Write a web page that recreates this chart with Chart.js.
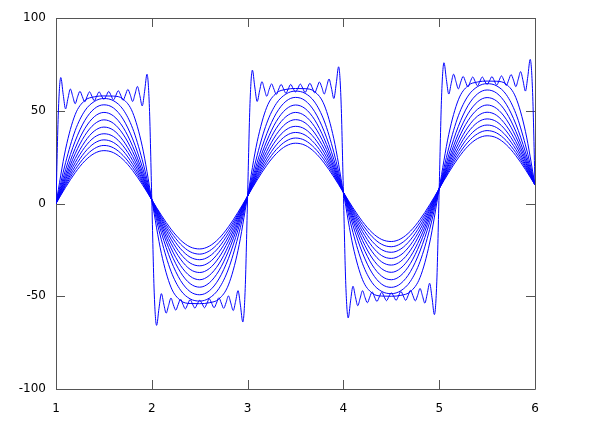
<!DOCTYPE html>
<html>
<head>
<meta charset="utf-8">
<script src="https://cdn.jsdelivr.net/npm/chart.js@4.4.1/dist/chart.umd.min.js"></script>
<style>
  html, body { margin: 0; padding: 0; background: #fff; }
  #chart { display: block; }
</style>
</head>
<body>
<canvas id="chart" width="597" height="438"></canvas>
<script>
// tick labels
const xTicks = [1, 2, 3, 4, 5, 6];
const yTicks = [-100, -50, 0, 50, 100];

// x positions of the smooth curves (step 0.1)
const smoothX = [
  1, 1.1, 1.2, 1.3, 1.4, 1.5, 1.6, 1.7, 1.8, 1.9,
  2, 2.1, 2.2, 2.3, 2.4, 2.5, 2.6, 2.7, 2.8, 2.9,
  3, 3.1, 3.2, 3.3, 3.4, 3.5, 3.6, 3.7, 3.8, 3.9,
  4, 4.1, 4.2, 4.3, 4.4, 4.5, 4.6, 4.7, 4.8, 4.9,
  5, 5.1, 5.2, 5.3, 5.4, 5.5, 5.6, 5.7, 5.8, 5.9,
  6
];

// smooth curves, innermost first
const curve0 = [0, 8.7, 16.6, 22.9, 27.0, 28.5, 27.4, 23.7, 17.8, 10.3,
  2.0, -6.3, -13.8, -19.7, -23.4, -24.5, -23.0, -18.9, -12.6, -4.7,
  4.0, 12.7, 20.6, 26.9, 31.0, 32.5, 31.4, 27.7, 21.8, 14.3,
  6.0, -2.3, -9.8, -15.7, -19.4, -20.5, -19.0, -14.9, -8.6, -0.7,
  8.0, 16.7, 24.6, 30.9, 35.0, 36.5, 35.4, 31.7, 25.8, 18.3, 10.0];
const curve1 = [0, 9.6, 18.2, 25.1, 29.6, 31.3, 30.0, 25.9, 19.4, 11.2,
  2.0, -7.2, -15.4, -21.9, -26.0, -27.3, -25.6, -21.1, -14.2, -5.6,
  4.0, 13.6, 22.2, 29.1, 33.6, 35.3, 34.0, 29.9, 23.4, 15.2,
  6.0, -3.2, -11.4, -17.9, -22.0, -23.3, -21.6, -17.1, -10.2, -1.6,
  8.0, 17.6, 26.2, 33.1, 37.6, 39.3, 38.0, 33.9, 27.4, 19.2, 10.0];
const curve2 = [0, 10.5, 20.0, 27.6, 32.5, 34.3, 32.9, 28.4, 21.2, 12.1,
  2.0, -8.1, -17.2, -24.4, -28.9, -30.3, -28.5, -23.6, -16.0, -6.5,
  4.0, 14.5, 24.0, 31.6, 36.5, 38.3, 36.9, 32.4, 25.2, 16.1,
  6.0, -4.1, -13.2, -20.4, -24.9, -26.3, -24.5, -19.6, -12.0, -2.5,
  8.0, 18.5, 28.0, 35.6, 40.5, 42.3, 40.9, 36.4, 29.2, 20.1, 10.0];
const curve3 = [0, 11.5, 22.0, 30.3, 35.7, 37.6, 36.1, 31.1, 23.2, 13.1,
  2.0, -9.1, -19.2, -27.1, -32.1, -33.6, -31.7, -26.3, -18.0, -7.5,
  4.0, 15.5, 26.0, 34.3, 39.7, 41.6, 40.1, 35.1, 27.2, 17.1,
  6.0, -5.1, -15.2, -23.1, -28.1, -29.6, -27.7, -22.3, -14.0, -3.5,
  8.0, 19.5, 30.0, 38.3, 43.7, 45.6, 44.1, 39.1, 31.2, 21.1, 10.0];
const curve4 = [0, 12.8, 24.2, 33.2, 39.1, 41.2, 39.5, 34.0, 25.4, 14.4,
  2.0, -10.4, -21.4, -30.0, -35.5, -37.2, -35.1, -29.2, -20.2, -8.8,
  4.0, 16.8, 28.2, 37.2, 43.1, 45.2, 43.5, 38.0, 29.4, 18.4,
  6.0, -6.4, -17.4, -26.0, -31.5, -33.2, -31.1, -25.2, -16.2, -4.8,
  8.0, 20.8, 32.2, 41.2, 47.1, 49.2, 47.5, 42.0, 33.4, 22.4, 10.0];
const curve5 = [0, 14.1, 26.8, 36.6, 42.8, 45.1, 43.2, 37.4, 28.0, 15.7,
  2.0, -11.7, -24.0, -33.4, -39.2, -41.1, -38.8, -32.6, -22.8, -10.1,
  4.0, 18.1, 30.8, 40.6, 46.8, 49.1, 47.2, 41.4, 32.0, 19.7,
  6.0, -7.7, -20.0, -29.4, -35.2, -37.1, -34.8, -28.6, -18.8, -6.1,
  8.0, 22.1, 34.8, 44.6, 50.8, 53.1, 51.2, 45.4, 36.0, 23.7, 10.0];
const curve6 = [0, 15.8, 29.7, 40.3, 46.8, 49.1, 47.2, 41.1, 30.9, 17.4,
  2.0, -13.4, -26.9, -37.1, -43.2, -45.1, -42.8, -36.3, -25.7, -11.8,
  4.0, 19.8, 33.7, 44.3, 50.8, 53.1, 51.2, 45.1, 34.9, 21.4,
  6.0, -9.4, -22.9, -33.1, -39.2, -41.1, -38.8, -32.3, -21.7, -7.8,
  8.0, 23.8, 37.7, 48.3, 54.8, 57.1, 55.2, 49.1, 38.9, 25.4, 10.0];
const curve7 = [0, 18.2, 33.6, 44.7, 51.1, 53.2, 51.5, 45.5, 34.8, 19.8,
  2.0, -15.8, -30.8, -41.5, -47.5, -49.2, -47.1, -40.7, -29.6, -14.2,
  4.0, 22.2, 37.6, 48.7, 55.1, 57.2, 55.5, 49.5, 38.8, 23.8,
  6.0, -11.8, -26.8, -37.5, -43.5, -45.2, -43.1, -36.7, -25.6, -10.2,
  8.0, 26.2, 41.6, 52.7, 59.1, 61.2, 59.5, 53.5, 42.8, 27.8, 10.0];
const curve8 = [0, 22.0, 39.3, 49.9, 55.0, 56.6, 55.4, 50.7, 40.5, 23.6,
  2.0, -19.6, -36.5, -46.7, -51.4, -52.6, -51.0, -45.9, -35.3, -18.0,
  4.0, 26.0, 43.3, 53.9, 59.0, 60.6, 59.4, 54.7, 44.5, 27.6,
  6.0, -15.6, -32.5, -42.7, -47.4, -48.6, -47.0, -41.9, -31.3, -14.0,
  8.0, 30.0, 47.3, 57.9, 63.0, 64.6, 63.4, 58.7, 48.5, 31.6, 10.0];
const curve9 = [0, 29.3, 47.9, 55.5, 57.5, 58.0, 57.9, 56.3, 49.1, 30.9,
  2.0, -26.9, -45.1, -52.3, -53.9, -54.0, -53.5, -51.5, -43.9, -25.3,
  4.0, 33.3, 51.9, 59.5, 61.5, 62.0, 61.9, 60.3, 53.1, 34.9,
  6.0, -22.9, -41.1, -48.3, -49.9, -50.0, -49.5, -47.5, -39.9, -21.3,
  8.0, 37.3, 55.9, 63.5, 65.5, 66.0, 65.9, 64.3, 57.1, 38.9, 10.0];

// x positions of the rippled curve (step 0.025)
const rippleX = [
  1, 1.025, 1.05, 1.075, 1.1, 1.125, 1.15, 1.175,
  1.2, 1.225, 1.25, 1.275, 1.3, 1.325, 1.35, 1.375,
  1.4, 1.425, 1.45, 1.475, 1.5, 1.525, 1.55, 1.575,
  1.6, 1.625, 1.65, 1.675, 1.7, 1.725, 1.75, 1.775,
  1.8, 1.825, 1.85, 1.875, 1.9, 1.925, 1.95, 1.975,
  2, 2.025, 2.05, 2.075, 2.1, 2.125, 2.15, 2.175,
  2.2, 2.225, 2.25, 2.275, 2.3, 2.325, 2.35, 2.375,
  2.4, 2.425, 2.45, 2.475, 2.5, 2.525, 2.55, 2.575,
  2.6, 2.625, 2.65, 2.675, 2.7, 2.725, 2.75, 2.775,
  2.8, 2.825, 2.85, 2.875, 2.9, 2.925, 2.95, 2.975,
  3, 3.025, 3.05, 3.075, 3.1, 3.125, 3.15, 3.175,
  3.2, 3.225, 3.25, 3.275, 3.3, 3.325, 3.35, 3.375,
  3.4, 3.425, 3.45, 3.475, 3.5, 3.525, 3.55, 3.575,
  3.6, 3.625, 3.65, 3.675, 3.7, 3.725, 3.75, 3.775,
  3.8, 3.825, 3.85, 3.875, 3.9, 3.925, 3.95, 3.975,
  4, 4.025, 4.05, 4.075, 4.1, 4.125, 4.15, 4.175,
  4.2, 4.225, 4.25, 4.275, 4.3, 4.325, 4.35, 4.375,
  4.4, 4.425, 4.45, 4.475, 4.5, 4.525, 4.55, 4.575,
  4.6, 4.625, 4.65, 4.675, 4.7, 4.725, 4.75, 4.775,
  4.8, 4.825, 4.85, 4.875, 4.9, 4.925, 4.95, 4.975,
  5, 5.025, 5.05, 5.075, 5.1, 5.125, 5.15, 5.175,
  5.2, 5.225, 5.25, 5.275, 5.3, 5.325, 5.35, 5.375,
  5.4, 5.425, 5.45, 5.475, 5.5, 5.525, 5.55, 5.575,
  5.6, 5.625, 5.65, 5.675, 5.7, 5.725, 5.75, 5.775,
  5.8, 5.825, 5.85, 5.875, 5.9, 5.925, 5.95, 5.975,
  6
];

// outer curve with the ripples
const ripple = [
  0, 49.9, 67.9, 58.8, 51.0, 56.7, 61.7, 57.7,
  53.8, 57.5, 60.5, 57.6, 54.8, 57.7, 60.2, 57.8,
  55.4, 57.9, 60.2, 58.0, 56.2, 58.1, 60.4, 58.2,
  55.8, 58.3, 60.8, 58.4, 55.6, 58.5, 61.5, 58.6,
  55.0, 59.0, 63.1, 58.2, 52.6, 60.5, 69.7, 51.8,
  2, -47.8, -65.7, -56.5, -48.6, -54.2, -59.1, -55.0,
  -51.0, -54.6, -57.5, -54.5, -51.6, -54.4, -56.8, -54.3,
  -51.8, -54.2, -56.4, -54.1, -52.2, -54.0, -56.2, -53.9,
  -51.4, -53.8, -56.2, -53.7, -50.8, -53.6, -56.5, -53.5,
  -49.8, -53.7, -57.7, -52.7, -47.0, -54.8, -63.9, -45.9,
  4, 53.9, 71.9, 62.8, 55.0, 60.7, 65.7, 61.7,
  57.8, 61.5, 64.5, 61.6, 58.8, 61.7, 64.2, 61.8,
  59.4, 61.9, 64.2, 62.0, 60.2, 62.1, 64.4, 62.2,
  59.8, 62.3, 64.8, 62.4, 59.6, 62.5, 65.5, 62.6,
  59.0, 63.0, 67.1, 62.2, 56.6, 64.5, 73.7, 55.8,
  6, -43.8, -61.7, -52.5, -44.6, -50.2, -55.1, -51.0,
  -47.0, -50.6, -53.5, -50.5, -47.6, -50.4, -52.8, -50.3,
  -47.8, -50.2, -52.4, -50.1, -48.2, -50.0, -52.2, -49.9,
  -47.4, -49.8, -52.2, -49.7, -46.8, -49.6, -52.5, -49.5,
  -45.8, -49.7, -53.7, -48.7, -43.0, -50.8, -59.9, -41.9,
  8, 57.9, 75.9, 66.8, 59.0, 64.7, 69.7, 65.7,
  61.8, 65.5, 68.5, 65.6, 62.8, 65.7, 68.2, 65.8,
  63.4, 65.9, 68.2, 66.0, 64.2, 66.1, 68.4, 66.2,
  63.8, 66.3, 68.8, 66.4, 63.6, 66.5, 69.5, 66.6,
  63.0, 67.0, 71.1, 66.2, 60.6, 68.5, 77.7, 59.8,
  10
];

const smoothCurves = [curve0, curve1, curve2, curve3, curve4, curve5, curve6, curve7, curve8, curve9];

function toPoints(xs, ys) {
  return ys.map((y, i) => ({ x: xs[i], y: y }));
}

function makeLine(points) {
  return {
    data: points,
    borderColor: '#0000ff',
    borderWidth: 1,
    pointRadius: 0,
    fill: false,
    cubicInterpolationMode: 'monotone'
  };
}

const datasets = smoothCurves.map(c => makeLine(toPoints(smoothX, c)));
datasets.push(makeLine(toPoints(rippleX, ripple)));

// gnuplot style border with inward ticks on all four sides
const framePlugin = {
  id: 'frame',
  beforeDatasetsDraw(chart) {
    const { ctx, chartArea: a, scales } = chart;
    const tick = 9;
    ctx.save();
    ctx.strokeStyle = '#555';
    ctx.lineWidth = 1;
    ctx.beginPath();
    ctx.rect(Math.round(a.left) + 0.5, Math.round(a.top) + 0.5,
      Math.round(a.right - a.left), Math.round(a.bottom - a.top));
    xTicks.forEach(v => {
      const px = Math.round(scales.x.getPixelForValue(v)) + 0.5;
      ctx.moveTo(px, a.bottom);
      ctx.lineTo(px, a.bottom - tick);
      ctx.moveTo(px, a.top);
      ctx.lineTo(px, a.top + tick);
    });
    yTicks.forEach(v => {
      const py = Math.round(scales.y.getPixelForValue(v)) + 0.5;
      ctx.moveTo(a.left, py);
      ctx.lineTo(a.left + tick, py);
      ctx.moveTo(a.right, py);
      ctx.lineTo(a.right - tick, py);
    });
    ctx.stroke();
    ctx.restore();
  }
};

const tickFont = { family: 'DejaVu Sans', size: 12 };

new Chart(document.getElementById('chart'), {
  type: 'line',
  data: { datasets: datasets },
  options: {
    responsive: false,
    animation: false,
    devicePixelRatio: 1,
    layout: { padding: { top: 18, right: 62, bottom: 0, left: 0 } },
    plugins: { legend: { display: false }, tooltip: { enabled: false } },
    scales: {
      x: {
        type: 'linear',
        min: xTicks[0],
        max: xTicks[xTicks.length - 1],
        grid: { display: false, drawTicks: false },
        border: { display: false },
        ticks: { stepSize: 1, padding: 13, color: '#000', font: tickFont },
        afterFit: s => { s.height = 49; }
      },
      y: {
        min: yTicks[0],
        max: yTicks[yTicks.length - 1],
        grid: { display: false, drawTicks: false },
        border: { display: false },
        ticks: { stepSize: 50, padding: 10, color: '#000', font: tickFont },
        afterFit: s => { s.width = 56; }
      }
    }
  },
  plugins: [framePlugin]
});
</script>
</body>
</html>
